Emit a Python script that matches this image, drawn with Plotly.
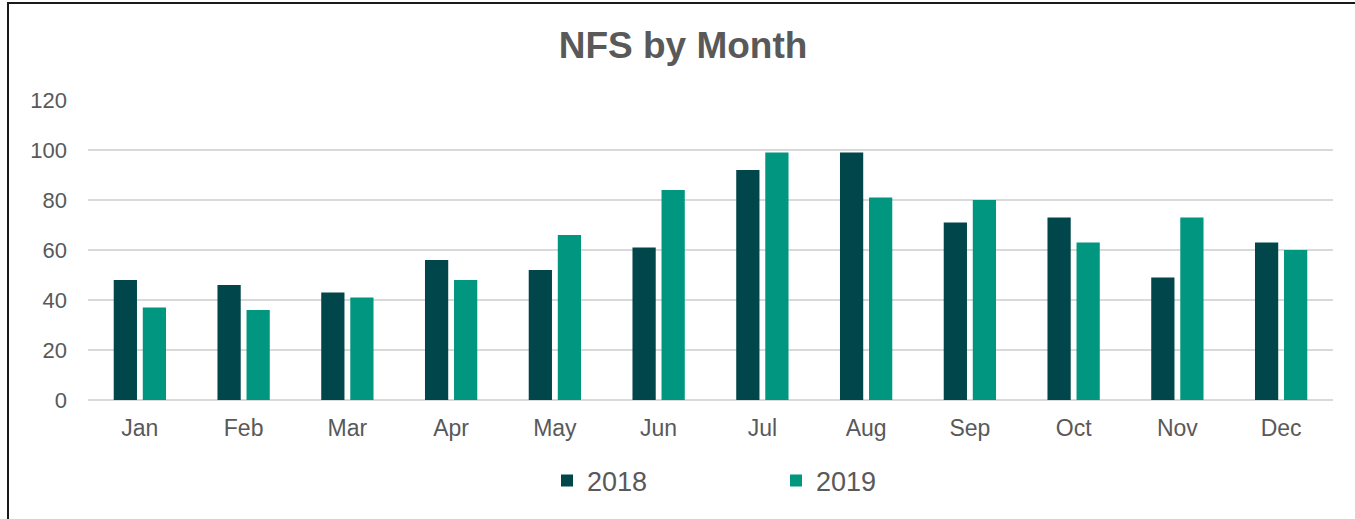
import plotly.graph_objects as go

months = ["Jan", "Feb", "Mar", "Apr", "May", "Jun", "Jul", "Aug", "Sep", "Oct", "Nov", "Dec"]
nfs_2018 = [48, 46, 43, 56, 52, 61, 92, 99, 71, 73, 49, 63]
nfs_2019 = [37, 36, 41, 48, 66, 84, 99, 81, 80, 63, 73, 60]
y_ticks = [0, 20, 40, 60, 80, 100, 120]

FONT = "Liberation Sans, Arial, sans-serif"
GREY = "#595959"

fig = go.Figure()
fig.add_trace(go.Bar(name="2018", x=months, y=nfs_2018, marker=dict(color="#00464A", line=dict(width=0))))
fig.add_trace(go.Bar(name="2019", x=months, y=nfs_2019, marker=dict(color="#00967F", line=dict(width=0))))

fig.update_layout(
    width=1355, height=519,
    margin=dict(l=88, r=22, t=100, b=119),
    paper_bgcolor="white", plot_bgcolor="white",
    barmode="group", bargap=0.44, bargroupgap=0.2,
    font=dict(family=FONT, color=GREY),
    title=dict(text="<b>NFS by Month</b>", font=dict(size=37, color=GREY, family=FONT),
               x=683/1355, xref="container", xanchor="center",
               y=1-45/519, yref="container", yanchor="middle"),
    legend=dict(orientation="h", xref="container", yref="container",
                x=547/1355, xanchor="left", y=1-481/519, yanchor="middle",
                font=dict(size=27, color=GREY, family=FONT),
                entrywidth=184, entrywidthmode="pixels", traceorder="normal"),
    showlegend=True,
)
fig.update_xaxes(showgrid=False, showline=False, ticks="", tickfont=dict(size=23, color=GREY),
                 ticklabelstandoff=12)
fig.update_yaxes(range=[0, 120], tickvals=y_ticks, showgrid=True, gridcolor="#D9D9D9", gridwidth=2,
                 zeroline=True, zerolinecolor="#D9D9D9", zerolinewidth=2, showline=False, ticks="",
                 tickfont=dict(size=22, color=GREY), ticklabelstandoff=20)

fig.add_shape(type="rect", xref="paper", yref="paper", xanchor=0, yanchor=1,
              xsizemode="pixel", ysizemode="pixel", x0=-80, x1=2000, y0=97, y1=-2000,
              line=dict(color="#1a1a1a", width=2), fillcolor="rgba(0,0,0,0)", layer="above")

fig.write_html("out.html", config={"displayModeBar": False},
               post_script="document.body.style.margin='0';document.body.style.overflow='hidden';")
